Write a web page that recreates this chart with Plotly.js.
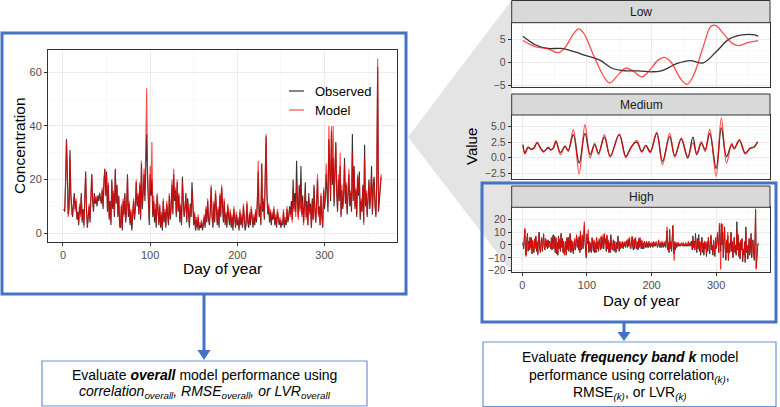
<!DOCTYPE html>
<html><head><meta charset="utf-8">
<script src="https://cdn.plot.ly/plotly-3.0.1.min.js"></script>
<style>html,body{margin:0;padding:0;background:#fff;}#chart{width:780px;height:407px;}</style>
</head><body><div id="chart"></div>
<script>
// ---- Data (day 1..365) ----
const observed = [
9,8,20,35,22,7,10,31,14,8, 6,11,15,9,12,5,8,3,10,7, 15,4,9,3,12,23,8,2,6,10,
4,14,22,12,8,15,11,13,10,14, 12,15,13,11,16,9,20,24,14,23, 8,18,5,12,3,20,9,15,6,24,
11,18,6,14,3,2,10,1,12,7, 15,4,9,22,6,11,3,8,1,10, 12,5,9,19,10,14,7,18,5,26,
9,15,22,12,30,37,20,10,3,22, 14,20,6,12,4,9,2,14,5,3, 10,2,7,1,12,4,8,2,11,6,
3,14,5,9,18,7,22,12,16,6, 19,8,14,4,10,3,21,12,6,9, 15,4,13,8,2,11,6,19,10,3,
7,1,5,2,6,1,3,2,4,1, 3,6,2,9,4,12,5,3,8,17, 6,2,11,4,15,7,3,9,2,14,
6,17,9,4,12,3,7,2,10,5, 3,8,2,6,1,9,4,2,7,3, 5,1,8,3,6,2,10,4,1,3,
11,4,2,7,3,9,5,2,6,3, 8,4,12,23,6,10,3,26,8,12, 5,20,36,14,7,10,4,8,3,7,
5,9,3,6,2,8,4,3,5,2, 4,3,8,2,5,3,9,4,6,10, 7,12,5,20,9,15,8,27,12,6,
18,9,25,7,14,4,10,19,6,12, 3,15,8,11,2,13,5,18,9,4, 12,20,7,10,3,14,6,2,16,9,
13,22,15,8,35,20,12,38,18,28, 10,22,34,15,8,20,12,25,6,16, 9,14,28,11,18,7,13,22,10,15,
8,37,12,25,9,16,6,21,14,23, 5,12,8,18,4,33,10,15,6,12, 20,9,14,25,7,18,21,10,6,20,
62,8,14,18,21];
const model = [
9,9,18,34,20,6,9,29,15,7, 7,10,14,8,13,6,7,4,11,6, 14,5,8,2,13,22,9,3,7,11,
5,13,22,13,9,14,12,14,11,13, 13,14,12,12,17,10,21,24,15,22, 9,19,6,11,4,19,10,16,7,23,
12,17,7,13,2,3,11,2,13,6, 14,5,10,21,7,12,4,9,2,11, 13,6,10,20,11,15,8,19,6,27,
11,16,24,14,36,54,24,12,5,25, 16,34,8,14,6,11,3,15,6,4, 11,3,8,2,13,5,9,3,12,7,
4,15,6,10,20,8,24,13,17,7, 20,9,15,5,11,3,19,13,7,10, 14,5,12,9,3,10,7,16,9,4,
8,2,6,1,7,2,4,3,5,2, 4,7,3,10,5,13,6,4,9,18, 7,3,12,5,16,8,4,10,3,15,
7,18,10,5,13,4,8,3,11,6, 4,9,3,7,2,10,5,3,8,4, 6,2,9,4,7,3,11,5,2,4,
12,5,3,8,4,10,6,3,7,4, 9,5,13,27,7,11,4,26,9,13, 6,22,37,15,8,11,5,9,4,8,
6,10,4,7,3,9,5,4,6,3, 5,4,9,3,6,4,10,5,7,9, 6,10,4,16,8,12,6,19,10,5,
15,8,18,6,12,3,9,16,5,10, 3,13,7,10,2,12,5,17,8,4, 11,22,6,9,3,15,7,3,17,10,
15,26,17,10,40,24,14,40,20,40, 12,24,33,17,9,22,13,30,7,18, 10,15,26,12,19,8,14,24,11,16,
9,30,13,24,10,17,7,22,15,21, 6,13,9,17,3,28,11,16,7,13, 19,10,15,22,8,17,20,11,7,19,
65,9,15,19,22];

// Low frequency band
const lowObsDays = [1,20,40,60,80,100,120,140,160,180,200,215,240,260,280,300,320,340,360,365];
const lowObs     = [5.6,3.8,3.0,3.0,2.3,1.4,0.5,-1.3,-1.8,-1.8,-2.0,-1.8,-0.2,0.4,-0.1,2.3,5.0,5.9,5.9,5.6];
const lowModDays = [1,20,40,55,65,80,87,95,110,125,135,150,160,170,185,195,210,220,230,245,255,265,280,292,300,310,325,335,350,365];
const lowMod     = [4.7,3.4,2.9,2.1,3.0,6.3,7.2,6.3,1.6,-2.75,-4.4,-2.4,-1.2,-1.7,-3.1,-2.0,0.5,1.1,0.1,-3.5,-4.7,-2.75,3.4,7.75,7.9,6.4,4.1,3.6,4.3,4.7];

// Medium frequency band
const medDays = [1,4,9,14,18,23,28,33,40,44,48,52,59,66,71,79,88,97,105,112,118,127,136,150,160,165,169,177,185,191,198,208,217,228,236,246,256,264,270,277,283,290,300,308,316,324,328,336,345,353,358,364];
const medObs  = [2.1,0.75,1.7,1.3,1.6,2.4,1.6,1.0,1.6,1.3,1.5,2.6,0.85,1.8,1.2,3.7,-0.85,3.9,0.5,2.1,0.75,3.3,0.3,3.7,0.2,1.0,1.8,2.5,1.0,2.0,1.0,3.9,-0.6,3.4,0.3,3.0,-0.05,3.3,0.5,2.3,1.3,3.9,-1.7,4.8,0.2,2.1,1.5,2.8,0.75,1.55,1.65,2.5];
const medMod  = [2.0,0.6,1.6,1.4,1.5,2.5,1.5,0.9,1.7,1.2,1.6,2.8,0.5,1.9,1.0,4.5,-2.6,5.3,0.0,2.3,0.5,3.7,0.1,3.8,0.0,1.0,1.7,2.8,0.9,2.0,0.8,4.1,-1.1,3.9,0.1,3.2,0.2,2.4,0.7,2.6,1.0,4.6,-3.0,6.4,-0.85,2.3,1.4,2.9,0.6,1.6,1.7,2.6];

// High frequency band (day 1..365)
const highObs = [
2,-3,5,12,-6,-8,4,9,-5,3, -4,6,-2,5,-7,3,-1,-6,4,-2, 7,-5,2,-7,4,10,-3,-6,2,5,
-5,3,8,-2,-4,5,-1,3,-3,4, -2,3,1,-3,5,-4,6,8,-3,7, -6,5,-7,2,-8,7,-3,4,-5,9,
-2,5,-6,3,-7,-5,2,-8,5,-3, 6,-5,1,9,-6,3,-5,2,-7,3, 4,-4,1,7,-2,4,-4,6,-6,10,
-4,2,7,-3,8,15,2,-6,-10,8, 1,6,-6,2,-5,1,-6,5,-3,-5, 3,-6,1,-6,5,-3,2,-5,4,-1,
-4,6,-3,1,6,-3,8,1,4,-5, 7,-3,3,-6,1,-6,8,2,-4,-1, 4,-5,3,-2,-6,2,-3,7,1,-5,
2,-3,1,-2,2,-3,1,-1,2,-2, 1,3,-2,4,-1,5,-2,-3,2,6, -2,-4,4,-3,5,-1,-3,2,-4,4,
-2,5,1,-3,3,-3,1,-3,2,-1, -2,2,-2,1,-2,2,-1,-2,1,-1, 1,-2,2,-1,1,-1,2,1,-2,-1,
3,-1,-2,1,-2,2,0,-2,1,-1, 2,-2,4,11,-4,1,-6,12,-3,2, -5,8,15,-5,-7,2,-4,1,-2,1,
-1,1,-1,0,-1,1,0,-1,1,-1, 0,-1,1,-1,0,-1,2,-1,0,2, -1,3,-4,7,-2,3,-4,9,1,-6,
5,-3,8,-5,2,-8,-1,6,-6,1, -8,3,-3,1,-9,2,-5,6,-2,-7, 1,7,-4,-1,-8,3,-5,-9,5,-3,
1,8,2,-6,15,3,-5,16,0,10, -10,3,14,-4,-12,3,-6,7,-12,1, -6,-1,10,-5,2,-10,-3,6,-6,-1,
-8,18,-4,8,-9,1,-11,3,-4,5, -13,-4,-8,2,-13,14,-6,-1,-11,-4, 5,-8,-3,9,-10,2,4,-8,-12,3,
27,-18,-5,-2,1];
const highMod = [
1,-2,4,13,-6,-9,3,8,-4,2, -3,5,-3,6,-6,4,-2,-5,5,-3, 6,-4,3,-8,5,9,-2,-5,3,6,
-4,2,9,-1,-3,4,-2,4,-2,3, -1,2,2,-2,6,-3,7,7,-2,6, -5,6,-6,1,-7,6,-2,5,-4,8,
-1,4,-5,2,-8,-4,3,-7,6,-4, 5,-4,2,8,-5,4,-4,3,-6,4, 5,-3,2,8,-1,5,-3,7,-5,11,
-3,3,8,-2,10,18,4,-5,-9,9, 2,12,-4,3,-4,2,-5,6,-2,-4, 4,-5,2,-5,6,-2,3,-4,5,0,
-3,7,-2,2,8,-2,9,2,5,-4, 8,-2,4,-5,2,-5,6,3,-3,0, 3,-4,2,-1,-5,1,-2,5,0,-4,
3,-2,2,-2,3,-2,2,0,3,-1, 2,4,-1,5,0,6,-1,-2,3,7, -1,-3,5,-2,6,0,-2,3,-3,5,
-1,6,2,-2,4,-2,2,-2,3,0, -1,3,-1,2,-1,3,0,-1,2,0, 2,-1,3,0,2,0,3,2,-1,0,
4,0,-1,2,-1,3,1,-1,2,0, 3,-1,5,14,-3,2,-5,11,-2,3, -4,6,15,-4,-12,3,-3,2,-1,2,
0,2,0,1,0,2,1,0,2,0, 1,0,2,0,1,0,3,0,1,1, 0,2,-3,4,-1,2,-3,5,2,-4,
4,-2,5,-3,3,-6,0,4,-4,2, -6,3,-2,2,-7,3,-3,5,-1,-5, 2,8,-3,0,-6,4,-3,-7,6,-2,
2,10,3,-5,17,5,-19,17,1,16, -8,4,12,-3,-10,4,-5,10,-11,2, -5,0,9,-4,3,-9,-2,5,-5,0,
-7,12,-3,7,-8,2,-9,4,-3,4, -11,-3,-7,3,-14,10,-5,0,-10,-3, 4,-6,-2,6,-8,3,3,-7,-10,2,
28,-19,-4,-1,2];

const dayTicks = [0,100,200,300];
const legendLabels = ['Observed','Model'];
const facetLabels = ['Low','Medium','High'];

// ---- Styles ----
const OBS = '#333333', MOD = 'rgba(255,0,0,0.7)';
const FONT = 'Liberation Sans, Arial, Helvetica, sans-serif';
const W = 780, H = 407;
const px = v => v / W, py = v => 1 - v / H;

const traces = [
  {x0:1, dx:1, y:observed, type:'scatter', mode:'lines', line:{color:OBS, width:1.1}, xaxis:'x', yaxis:'y', hoverinfo:'skip'},
  {x0:1, dx:1, y:model, type:'scatter', mode:'lines', line:{color:MOD, width:1.1}, xaxis:'x', yaxis:'y', hoverinfo:'skip'},
  {x:lowObsDays, y:lowObs, type:'scatter', mode:'lines', line:{color:OBS, width:1.3, shape:'spline', smoothing:1}, xaxis:'x2', yaxis:'y2'},
  {x:lowModDays, y:lowMod, type:'scatter', mode:'lines', line:{color:MOD, width:1.3, shape:'spline', smoothing:1}, xaxis:'x2', yaxis:'y2'},
  {x:medDays, y:medObs, type:'scatter', mode:'lines', line:{color:OBS, width:1.3, shape:'spline', smoothing:1}, xaxis:'x3', yaxis:'y3'},
  {x:medDays, y:medMod, type:'scatter', mode:'lines', line:{color:MOD, width:1.3, shape:'spline', smoothing:1}, xaxis:'x3', yaxis:'y3'},
  {x0:1, dx:1, y:highObs, type:'scatter', mode:'lines', line:{color:OBS, width:1}, xaxis:'x4', yaxis:'y4'},
  {x0:1, dx:1, y:highMod, type:'scatter', mode:'lines', line:{color:MOD, width:1}, xaxis:'x4', yaxis:'y4'}
];

function ax(extra) {
  return Object.assign({
    showline:true, mirror:true, linecolor:'#333', linewidth:1,
    ticks:'outside', ticklen:3, tickcolor:'#333', tickwidth:1,
    showgrid:true, gridcolor:'#ebebeb', gridwidth:1, zeroline:false,
    tickfont:{family:FONT, size:11, color:'#4d4d4d'}, fixedrange:true
  }, extra);
}
const minorX = {tickvals:[50,150,250,350], showgrid:true, gridcolor:'#f4f4f4', gridwidth:0.6, ticks:''};
const fx = [px(511.7), px(770)];

const layout = {
  width:W, height:H, margin:{l:0,r:0,t:0,b:0}, showlegend:false,
  paper_bgcolor:'#fff', plot_bgcolor:'#fff', font:{family:FONT},
  xaxis: ax({domain:[px(48),px(397)], range:[-17.2,383.2], tickvals:dayTicks, anchor:'y', minor:minorX}),
  yaxis: ax({domain:[py(242),py(50)], range:[-3.3,68.3], tickvals:[0,20,40,60], anchor:'x',
             minor:{tickvals:[10,30,50], showgrid:true, gridcolor:'#f4f4f4', gridwidth:0.6, ticks:''}}),
  xaxis2: ax({domain:fx, range:[-16.4,383.3], tickvals:dayTicks, showticklabels:false, ticks:'', anchor:'y2', minor:minorX}),
  yaxis2: ax({domain:[py(87.3),py(22.7)], range:[-5.33,8.53], tickvals:[-5,0,5], anchor:'x2', tickfont:{family:FONT,size:10.5,color:'#4d4d4d'},
             minor:{tickvals:[-2.5,2.5,7.5], showgrid:true, gridcolor:'#f4f4f4', gridwidth:0.6, ticks:''}}),
  xaxis3: ax({domain:fx, range:[-16.4,383.3], tickvals:dayTicks, showticklabels:false, ticks:'', anchor:'y3', minor:minorX}),
  yaxis3: ax({domain:[py(179.3),py(115)], range:[-3.47,6.87], tickvals:[-2.5,0,2.5,5], tickformat:'.1f', anchor:'x3', tickfont:{family:FONT,size:10.5,color:'#4d4d4d'},
             minor:{tickvals:[-1.25,1.25,3.75,6.25], showgrid:true, gridcolor:'#f4f4f4', gridwidth:0.6, ticks:''}}),
  xaxis4: ax({domain:fx, range:[-16.4,383.3], tickvals:dayTicks, anchor:'y4', minor:minorX, tickfont:{family:FONT,size:11,color:'#4d4d4d'}}),
  yaxis4: ax({domain:[py(272),py(207.3)], range:[-21,29.2], tickvals:[-20,-10,0,10,20], anchor:'x4', tickfont:{family:FONT,size:10.5,color:'#4d4d4d'},
             minor:{tickvals:[-15,-5,5,15,25], showgrid:true, gridcolor:'#f4f4f4', gridwidth:0.6, ticks:''}}),
  shapes: [],
  annotations: []
};

const BLUE = '#4472c4';
const S = layout.shapes, A = layout.annotations;
// grey zoom wedge
S.push({type:'path', xref:'paper', yref:'paper', layer:'below',
  path:`M ${px(408)},${py(137)} L ${px(511.7)},${py(0)} L ${px(511.7)},${py(271.7)} Z`,
  fillcolor:'#e4e4e4', line:{width:0}});
// strips
[[0.5,22.7],[94,115],[186,207.3]].forEach(([a,b],i)=>{
  S.push({type:'rect', xref:'paper', yref:'paper', x0:fx[0], x1:fx[1], y0:py(b), y1:py(a),
    fillcolor:'#d9d9d9', line:{color:'#333', width:1}});
  A.push({text:facetLabels[i], xref:'paper', yref:'paper', x:px(641), y:py((a+b)/2), showarrow:false,
    xanchor:'center', yanchor:'middle', font:{family:FONT, size:12, color:'#1a1a1a'}});
});
// blue frames
S.push({type:'rect', xref:'paper', yref:'paper', x0:px(2), x1:px(406), y0:py(294), y1:py(33), line:{color:BLUE, width:3}});
S.push({type:'rect', xref:'paper', yref:'paper', x0:px(482), x1:px(776), y0:py(322), y1:py(183), line:{color:BLUE, width:3}});
// arrows
S.push({type:'line', xref:'paper', yref:'paper', x0:px(204), x1:px(204), y0:py(295), y1:py(352), line:{color:BLUE, width:3}});
S.push({type:'path', xref:'paper', yref:'paper', path:`M ${px(197.5)},${py(350)} L ${px(210.5)},${py(350)} L ${px(204)},${py(360)} Z`, fillcolor:BLUE, line:{width:0}});
S.push({type:'line', xref:'paper', yref:'paper', x0:px(624), x1:px(624), y0:py(322), y1:py(333), line:{color:BLUE, width:3}});
S.push({type:'path', xref:'paper', yref:'paper', path:`M ${px(617.5)},${py(332)} L ${px(630.5)},${py(332)} L ${px(624)},${py(341)} Z`, fillcolor:BLUE, line:{width:0}});
// text boxes
S.push({type:'rect', xref:'paper', yref:'paper', x0:px(42), x1:px(367), y0:py(406), y1:py(361), line:{color:'#6b93d6', width:1.2}});
S.push({type:'rect', xref:'paper', yref:'paper', x0:px(483), x1:px(776), y0:py(406.5), y1:py(342), line:{color:'#6b93d6', width:1.2}});
// manual legend
S.push({type:'line', xref:'paper', yref:'paper', x0:px(289), x1:px(304), y0:py(91), y1:py(91), line:{color:OBS, width:1.2}});
S.push({type:'line', xref:'paper', yref:'paper', x0:px(289), x1:px(304), y0:py(110), y1:py(110), line:{color:MOD, width:1.2}});
A.push({text:legendLabels[0], xref:'paper', yref:'paper', x:px(313), y:py(91), showarrow:false, xanchor:'left', yanchor:'middle', font:{family:FONT,size:13,color:'#000'}});
A.push({text:legendLabels[1], xref:'paper', yref:'paper', x:px(313), y:py(110), showarrow:false, xanchor:'left', yanchor:'middle', font:{family:FONT,size:13,color:'#000'}});

// axis titles
const T = (text, x, y, angle, size) => A.push({text, xref:'paper', yref:'paper', x:px(x), y:py(y), showarrow:false,
  xanchor:'center', yanchor:'middle', textangle:angle||0, font:{family:FONT, size:size||15, color:'#000'}});
T('Concentration', 19, 146, -90, 15.5);
T('Day of year', 222.5, 268, 0, 15.5);
T('Value', 471, 147, -90, 15);
T('Day of year', 641, 300, 0, 15);
// box texts
const BT = 14;
T('Evaluate <b><i>overall</i></b> model performance using', 204.5, 375, 0, BT);
T('<i>correlation<sub>overall</sub>, RMSE<sub>overall</sub>, or LVR<sub>overall</sub></i>', 204.5, 392, 0, BT);
T('Evaluate <b><i>frequency band k</i></b> model', 629.5, 357, 0, BT);
T('performance using correlation<sub><i>(k)</i></sub>,', 629.5, 375.5, 0, BT);
T('RMSE<sub><i>(k)</i></sub>, or LVR<sub><i>(k)</i></sub>', 629.5, 393, 0, BT);

Plotly.newPlot('chart', traces, layout, {displayModeBar:false, staticPlot:true});
</script>
</body></html>
